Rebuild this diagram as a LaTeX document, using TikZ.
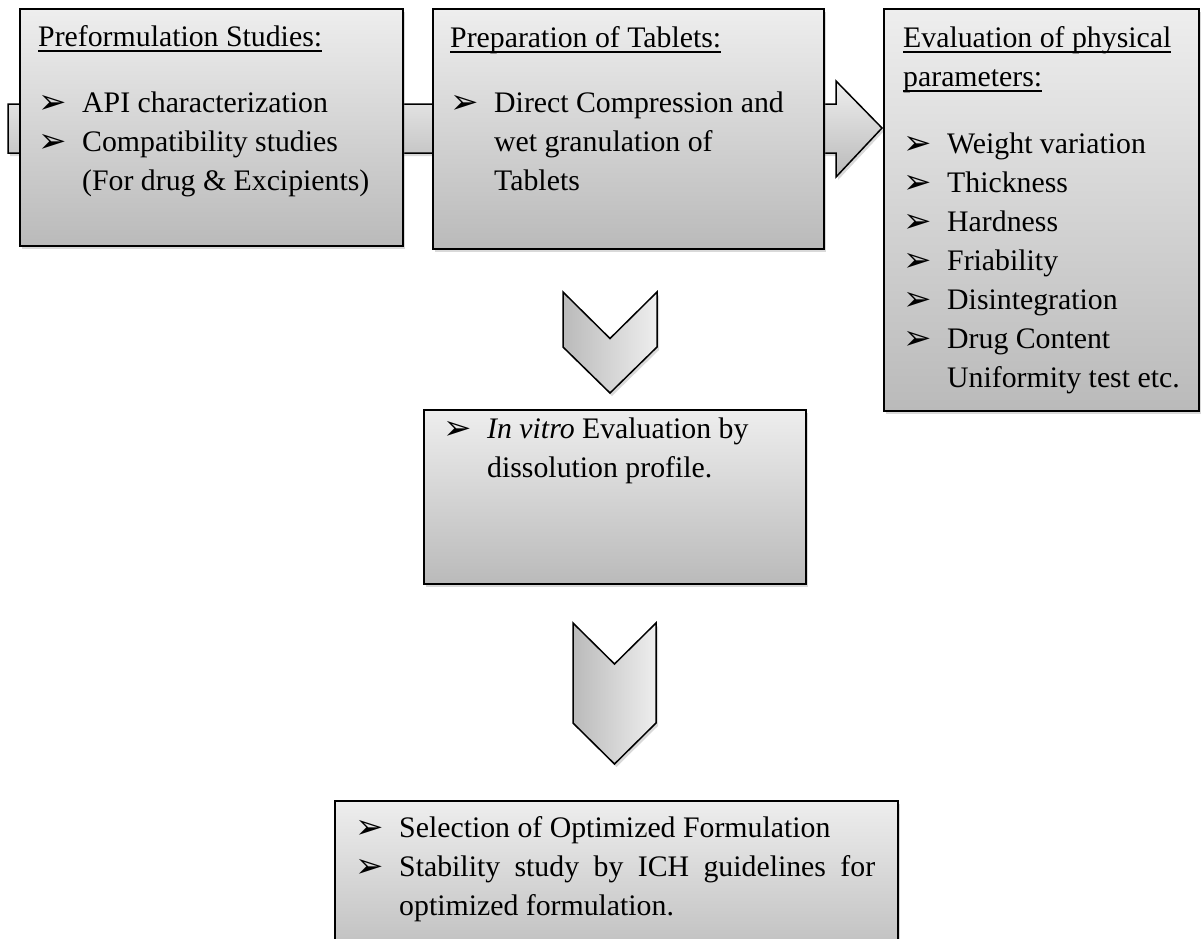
\documentclass[tikz,border=0pt]{standalone}
\usepackage{fontspec}
\setmainfont{Liberation Serif}
\newfontfamily\symfont{DejaVu Sans}
\usepackage{tikz}
\usetikzlibrary{positioning, calc, shadows, backgrounds}
\definecolor{paneltop}{RGB}{238,238,238}
\definecolor{panelbot}{RGB}{186,186,186}
\definecolor{chevdark}{RGB}{186,186,186}
\definecolor{chevlight}{RGB}{238,238,238}

% bullet, continuation indent and underlined heading
\newcommand{\bul}{\makebox[44pt][l]{\raisebox{-1pt}{\symfont\fontsize{34}{39}\selectfont ➢}}}
\newcommand{\cont}{\hspace*{44pt}}
\newcommand{\hdr}[1]{\setbox0\hbox{#1}\rlap{\rule[-5pt]{\wd0}{1.4pt}}\box0}

\begin{document}
\begin{tikzpicture}[
    x=1pt, y=-1pt,
    panel/.style={rectangle, draw=black, line width=1.5pt, anchor=north west,
        top color=paneltop, bottom color=panelbot,
        drop shadow={shadow xshift=2pt, shadow yshift=-3pt, opacity=0.3}},
    panetext/.style={anchor=north west, inner sep=0pt, align=left,
        font=\fontsize{29.8}{39}\selectfont},
    chevron/.style={draw=black, line width=1.5pt, line join=miter,
        left color=chevdark, right color=chevlight,
        drop shadow={shadow xshift=2pt, shadow yshift=-3pt, opacity=0.3}},
    bigarrow/.style={draw=black, line width=1.5pt,
        top color=paneltop, bottom color=panelbot,
        drop shadow={shadow xshift=2pt, shadow yshift=-3pt, opacity=0.3}}
]
\useasboundingbox (0,0) rectangle (1204,938);

% boxes
\node[panel, minimum width=383, minimum height=237] (prefor) at (19,8) {};
\node[panel, minimum width=391, minimum height=240] (prep) at (432,8) {};
\node[panel, minimum width=315, minimum height=402] (physeval) at (883,8) {};
\node[panel, minimum width=382, minimum height=174] (invitro) at (423,409) {};
\node[panel, minimum width=563, minimum height=170] (optim) at (334,800) {};

% box texts
\node[panetext, xshift=19, yshift=-11] (prefortxt) at (prefor.north west)
    {\strut\hdr{Preformulation Studies:}\\[27pt]
     \bul API characterization\\
     \bul Compatibility studies\\
     \cont(For drug \& Excipients)};
\node[panetext, xshift=18, yshift=-12] (preptxt) at (prep.north west)
    {\strut\hdr{Preparation of Tablets:}\\[26pt]
     \bul Direct Compression and\\
     \cont wet granulation of\\
     \cont Tablets};
\node[panetext, xshift=20, yshift=-12] (physevaltxt) at (physeval.north west)
    {\strut\hdr{Evaluation of physical}\\
     \hdr{parameters:}\\[28pt]
     \bul Weight variation\\
     \bul Thickness\\
     \bul Hardness\\
     \bul Friability\\
     \bul Disintegration\\
     \bul Drug Content\\
     \cont Uniformity test etc.};
\node[panetext, xshift=20, yshift=-2] (invitrotxt) at (invitro.north west)
    {\strut\bul\textit{In vitro} Evaluation by\\
     \cont dissolution profile.};
\node[panetext, xshift=21, yshift=-10] (optimtxt) at (optim.north west)
    {\strut\bul Selection of Optimized Formulation\\
     \bul\parbox[t]{476pt}{\hyphenpenalty=10000
        Stability study by ICH guidelines for optimized formulation.}};

% block arrow behind the top row
\begin{scope}[on background layer]
\coordinate (tip) at (882,128);
\draw[bigarrow] (8,104) -- (836,104) -- (836,81) -- (tip) -- (836,177) -- (836,153) -- (8,153) -- cycle;
\end{scope}

% chevrons
\draw[chevron] (563,292) -- (610,338.5) -- (657,292) -- (657,347) -- (610,393) -- (563,347) -- cycle;
\draw[chevron] (573,623) -- (614.5,664) -- (656,623) -- (656,723) -- (614.5,764) -- (573,723) -- cycle;
\end{tikzpicture}
\end{document}
